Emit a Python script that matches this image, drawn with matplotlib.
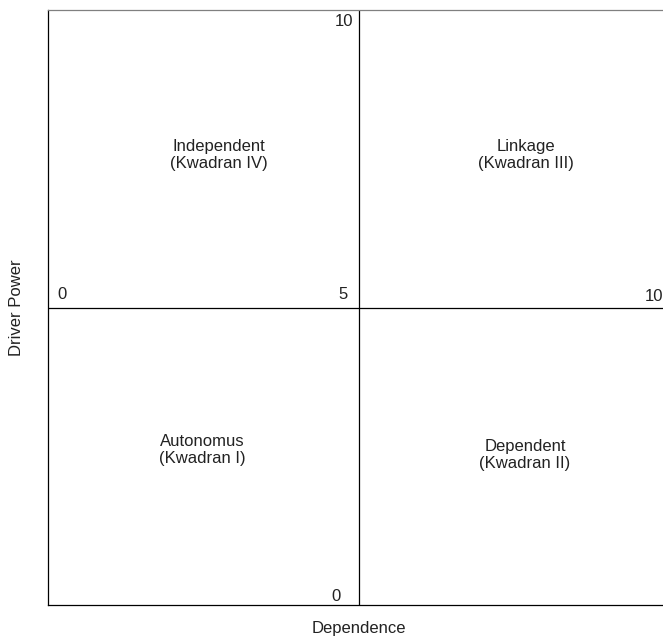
import matplotlib
matplotlib.use("Agg")
import matplotlib.pyplot as plt

# data: quadrant labels and their centres (data coords, 0..10 on both axes)
quad_names = ["Independent\n(Kwadran IV)", "Linkage\n(Kwadran III)",
              "Autonomus\n(Kwadran I)", "Dependent\n(Kwadran II)"]
quad_x = [2.75, 7.68, 2.48, 7.67]
quad_y = [7.56, 7.56, 2.60, 2.52]

# scale labels on the axes lines
tick_texts = ["10", "0", "5", "10", "0"]
tick_x = [4.90, 0.15, 4.81, 9.60, 4.71]
tick_y = [9.80, 5.22, 5.22, 5.18, 0.15]
tick_ha = ["right", "left", "right", "left", "right"]

mid = 5
lo, hi = 0, 10

plt.rcParams['font.family'] = ['Liberation Sans', 'DejaVu Sans']

fig = plt.figure(figsize=(6.63, 6.38), dpi=100)
ax = fig.add_axes([48/663, 33/638, 622/663, 595/638])
ax.set_xlim(lo, hi)
ax.set_ylim(lo, hi)
ax.set_xticks([])
ax.set_yticks([])

# box
ax.spines['top'].set_color('#808080')
ax.spines['left'].set_color('black')
ax.spines['bottom'].set_color('black')
for s in ax.spines.values():
    s.set_linewidth(0.9)

# centre lines
ax.axvline(mid, color='black', lw=0.9)
ax.axhline(mid, color='black', lw=0.9)

for name, x, y in zip(quad_names, quad_x, quad_y):
    ax.text(x, y, name, ha='center', va='center', fontsize=12,
            linespacing=1.2, color='#222222')

for t, x, y, ha in zip(tick_texts, tick_x, tick_y, tick_ha):
    ax.text(x, y, t, ha=ha, va='center', fontsize=12, color='#222222')

fig.text(359/663, 9/638, "Dependence", ha='center', va='center', fontsize=12,
         color='#222222')
fig.text(17/663, 330/638, "Driver Power", ha='center', va='center',
         rotation=90, fontsize=12, color='#222222')

fig.savefig("out.png", dpi=100)
